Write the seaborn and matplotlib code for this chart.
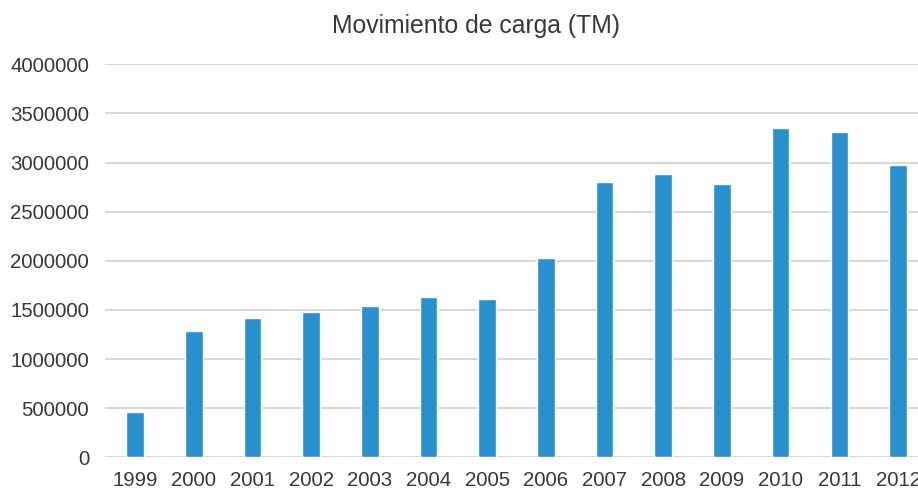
import pandas as pd
import matplotlib
matplotlib.use("Agg")
import matplotlib.pyplot as plt
import seaborn as sns

# Movimiento de carga (TM)
years = ["1999", "2000", "2001", "2002", "2003", "2004", "2005",
         "2006", "2007", "2008", "2009", "2010", "2011", "2012"]
carga = [465000, 1285000, 1414000, 1480000, 1540000, 1628000, 1613000,
         2027000, 2800000, 2886000, 2780000, 3347000, 3306000, 2980000]
yticks = [0, 500000, 1000000, 1500000, 2000000, 2500000, 3000000, 3500000, 4000000]

df = pd.DataFrame({"year": years, "carga": carga})

sns.set_style("white")
plt.rcParams["font.family"] = ["Liberation Sans", "DejaVu Sans"]

fig = plt.figure(figsize=(9.18, 4.90), dpi=100)
ax = fig.add_axes([104.5 / 918, (490 - 457.3) / 490, 1 - 104.5 / 918, (457.3 - 64.3) / 490])

sns.barplot(data=df, x="year", y="carga", color="#2990CD", width=0.3,
            saturation=1, ax=ax, zorder=3)

ax.set_ylim(0, 4000000)
ax.set_xlim(-0.52, 13.34)
ax.set_yticks(yticks)
ax.set_yticklabels([str(v) for v in yticks])
ax.grid(axis="y", color="#d9d9d9", linewidth=1.5, zorder=0)
ax.set_axisbelow(True)
ax.tick_params(axis="both", length=0, labelsize=14.7, colors="#383838")
ax.tick_params(axis="y", pad=11)
ax.tick_params(axis="x", pad=10)
ax.set_xlabel("")
ax.set_ylabel("")
sns.despine(ax=ax, left=True, bottom=True)

fig.text(476.5 / 918, 1 - 26.5 / 490, "Movimiento de carga (TM)", ha="center", va="center",
         fontsize=17.8, color="#383838")

fig.savefig("out.png", dpi=100)
